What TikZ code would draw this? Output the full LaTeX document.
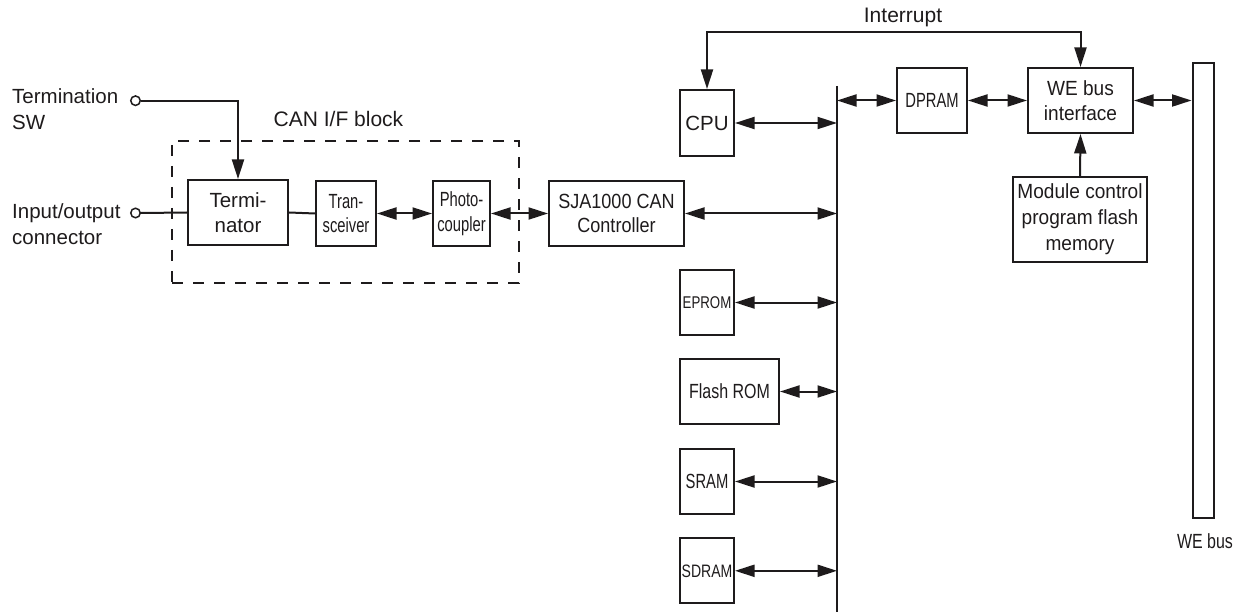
\documentclass[tikz,border=0pt]{standalone}
\usepackage{fontspec}
\setmainfont{Liberation Sans}
\newfontfamily\cA[FakeStretch=0.72]{Liberation Sans}
\newfontfamily\cB[FakeStretch=0.78]{Liberation Sans}
\newfontfamily\cC[FakeStretch=0.88]{Liberation Sans}
\newfontfamily\cD[FakeStretch=0.93]{Liberation Sans}
\usetikzlibrary{arrows.meta}
\definecolor{ink}{RGB}{30,27,28}
\begin{document}
\begin{tikzpicture}[x=1pt,y=-1pt,
  bt/.tip={Triangle[length=19.5pt,width=12pt]},
  lbl/.style={text=ink,inner sep=0pt,font=\fontsize{20.5}{25.8}\selectfont},
  box/.style={draw=ink,line width=2pt,inner sep=0pt,align=center,text=ink,font=\fontsize{20.5}{24.5}\selectfont},
  conn/.style={draw=ink,line width=2pt},
  biarrow/.style={conn,bt-bt},
  onearrow/.style={conn,-bt},
  port/.style={circle,draw=ink,fill=white,line width=1.5pt,minimum size=9.5pt,inner sep=0pt}]
\useasboundingbox (0,0) rectangle (1244,612);

% CAN I/F block frame
\node[draw=ink,line width=2pt,dash pattern=on 11pt off 10pt,minimum width=347pt,minimum height=142pt,inner sep=0pt] (canif) at (345.5,212) {};
\node[lbl,anchor=base,font=\fontsize{21}{25}\selectfont] (canlbl) at (338.5,126.7) {CAN I/F block};

% left labels and ports
\node[lbl,anchor=north west,align=left] (tswlbl) at (12,88.5) {Termination\\SW};
\node[lbl,anchor=north west,align=left] (iolbl) at (12,203.5) {Input/output\\connector};
\node[port] (termsw) at (135.5,100.7) {};
\node[port] (ioconn) at (135.5,213) {};

% CAN chain
\node[box,minimum width=100pt,minimum height=65pt] (term) at (238,212.5) {Termi-\\nator};
\node[box,minimum width=60pt,minimum height=65pt,font=\cA\fontsize{20.5}{24.5}\selectfont] (trans) at (346,213.5) {Tran-\\sceiver};
\node[box,minimum width=57pt,minimum height=65pt,font=\cA\fontsize{20.5}{24.5}\selectfont] (photo) at (461.5,213.5) {Photo-\\coupler};
\node[box,minimum width=135pt,minimum height=65pt,font=\cC\fontsize{20.5}{24.5}\selectfont] (sja) at (616.5,213.5) {SJA1000 CAN\\Controller};

% CPU side
\node[box,minimum width=54pt,minimum height=66pt] (cpu) at (707,123) {CPU};
\node[box,minimum width=70pt,minimum height=65pt,font=\cA\fontsize{20.5}{24.5}\selectfont] (dpram) at (932,100.5) {DPRAM};
\node[box,minimum width=105pt,minimum height=65pt,font=\cD\fontsize{20.5}{24.5}\selectfont] (weif) at (1080.5,100.5) {WE bus\\interface};
\node[box,minimum width=134pt,minimum height=85pt,font=\cD\fontsize{20.5}{25.8}\selectfont] (mod) at (1080,219.5) {Module control\\program flash\\memory};

% memories
\node[box,minimum width=54pt,minimum height=65pt,font=\cB\fontsize{17}{20}\selectfont] (eprom) at (707,302.5) {EPROM};
\node[box,minimum width=99pt,minimum height=65pt,font=\cB\fontsize{20.5}{24}\selectfont] (flash) at (729.5,391.5) {Flash ROM};
\node[box,minimum width=54pt,minimum height=65pt,font=\cA\fontsize{20.5}{24}\selectfont] (sram) at (707,481.5) {SRAM};
\node[box,minimum width=54pt,minimum height=65pt,font=\cB\fontsize{18}{22}\selectfont] (sdram) at (707,570.8) {SDRAM};

% WE bus bar
\node[box,minimum width=21.5pt,minimum height=455pt] (webar) at (1203.3,290.5) {};
\node[lbl,anchor=base,font=\cB\fontsize{20.5}{24}\selectfont] (webuslbl) at (1205,548.3) {WE bus};

% internal bus
\coordinate (bustop) at (837,86);
\coordinate (busbot) at (837,612);
\draw[conn] (bustop) -- (busbot);

% connectors
\draw[onearrow] (termsw.east) -| (term.north);
\draw[conn] (ioconn.east) -- (term.west);
\draw[conn] (term.east) -- (trans.west);
\draw[biarrow] (trans.east) -- (photo.west);
\draw[biarrow] (photo.east) -- (sja.west);
\draw[biarrow] (sja.east) -- (sja.east -| bustop);
\draw[biarrow] (cpu.east) -- (cpu.east -| bustop);
\draw[biarrow] (eprom.east) -- (eprom.east -| bustop);
\draw[biarrow] (flash.east) -- (flash.east -| bustop);
\draw[biarrow] (sram.east) -- (sram.east -| bustop);
\draw[biarrow] (sdram.east) -- (sdram.east -| bustop);
\draw[biarrow] (dpram.west -| bustop) -- (dpram.west);
\draw[biarrow] (dpram.east) -- (weif.west);
\draw[biarrow] (weif.east) -- (weif.east -| webar.west);
\draw[onearrow] (mod.north) -- (weif.south);

% interrupt
\coordinate (intl) at (900,32);
\draw[biarrow] (cpu.north) |- (intl) -| (weif.north);
\node[lbl,anchor=base,font=\fontsize{21}{25}\selectfont] (intlbl) at (903,22.7) {Interrupt};
\end{tikzpicture}
\end{document}
